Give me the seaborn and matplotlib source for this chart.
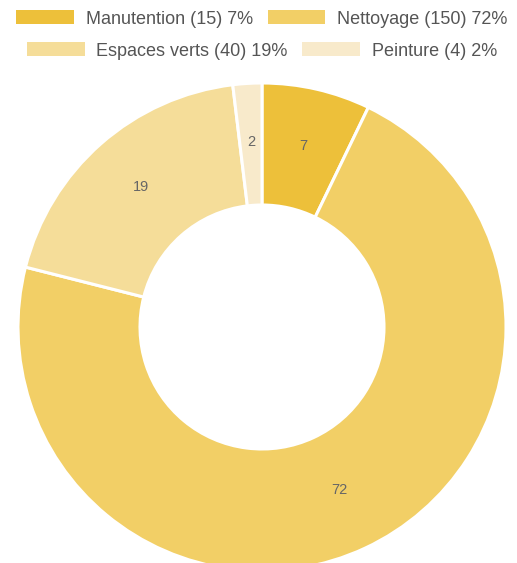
import matplotlib
matplotlib.use("Agg")
import matplotlib.pyplot as plt
import matplotlib.patches as mpatches
import numpy as np
import seaborn as sns

# Répartition des interventions par activité
categories = ["Manutention", "Nettoyage", "Espaces verts", "Peinture"]
counts = [15, 150, 40, 4]
colors = ["#EDC03A", "#F2CF66", "#F5DD99", "#F8EACB"]

sns.set_theme(style="white")
plt.rcParams["font.family"] = ["Liberation Sans", "DejaVu Sans"]

W, H = 517, 563
fig = plt.figure(figsize=(W / 100, H / 100), dpi=100)
fig.patch.set_facecolor("white")

# Donut placement (pixels): centre and outer radius
cx, cy, r = 262, 327, 244
ax = fig.add_axes([(cx - r) / W, (H - cy - r) / H, 2 * r / W, 2 * r / H])

total = sum(counts)
pcts = [round(100 * c / total) for c in counts]

wedges, _ = ax.pie(
    counts,
    colors=colors,
    startangle=90,
    counterclock=False,
    radius=1.0,
    wedgeprops=dict(width=0.5, edgecolor="white", linewidth=2.2),
)
ax.set_xlim(-1, 1)
ax.set_ylim(-1, 1)
ax.set_aspect("auto")
ax.axis("off")

# Percentage labels in the middle of the ring
for w, p in zip(wedges, pcts):
    ang = np.deg2rad((w.theta1 + w.theta2) / 2)
    ax.text(0.75 * np.cos(ang), 0.75 * np.sin(ang) + 0.01, f"{p}",
            ha="center", va="center", fontsize=10.5, color="#666666")

labels = [f"{c} ({n}) {p}%" for c, n, p in zip(categories, counts, pcts)]
handles = [mpatches.Patch(facecolor=col, edgecolor="none") for col in colors]

legend_kw = dict(
    ncol=2, frameon=False, fontsize=13, handlelength=3.2, handleheight=0.83,
    handletextpad=0.66, columnspacing=0.8, labelcolor="#555555",
    borderaxespad=0, borderpad=0,
)
leg1 = fig.legend(handles[:2], labels[:2], loc="center",
                  bbox_to_anchor=(262 / W, 1 - 19 / H), **legend_kw)
leg2 = fig.legend(handles[2:], labels[2:], loc="center",
                  bbox_to_anchor=(262 / W, 1 - 51 / H), **legend_kw)

fig.savefig("out.png", dpi=100, facecolor="white")
